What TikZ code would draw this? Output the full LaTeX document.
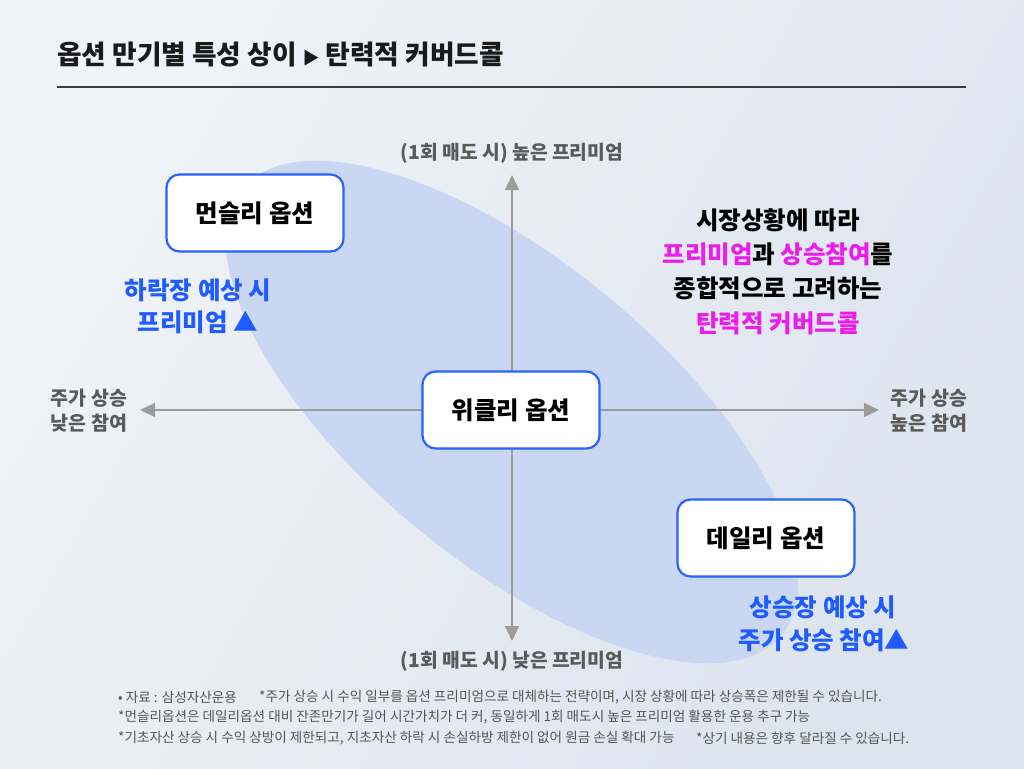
\documentclass[tikz,border=0pt]{standalone}
\usepackage{fontspec}
\setmainfont{Noto Sans CJK KR}
\usetikzlibrary{arrows.meta}
\definecolor{bgA}{HTML}{F0F3F7}
\definecolor{bgB}{HTML}{DCE4EE}
\definecolor{ellfill}{HTML}{C9D7F2}
\definecolor{boxblue}{HTML}{2962FF}
\definecolor{txtblue}{HTML}{1F5BFF}
\definecolor{mag}{HTML}{EC1CEC}
\definecolor{axisgray}{HTML}{9C9C9C}
\definecolor{labgray}{HTML}{5A5A5A}
\definecolor{notegray}{HTML}{555555}
\definecolor{titlecol}{HTML}{1A1A1A}
\tikzset{
  optbox/.style={draw=boxblue, line width=2.2pt, fill=white, rounded corners=13pt,
    minimum width=177pt, minimum height=77pt, inner sep=0pt, font=\bfseries\fontsize{24.5}{28}\selectfont, text=black},
  axisline/.style={draw=axisgray, line width=1.4pt, -{Triangle[length=15pt,width=14pt]}},
  axislab/.style={font=\bfseries\fontsize{19.3}{22}\selectfont, text=labgray, inner sep=0pt},
  sidelab/.style={font=\bfseries\fontsize{19.5}{25}\selectfont, text=labgray, inner sep=0pt, align=center},
  bluelab/.style={font=\bfseries\fontsize{24.5}{28}\selectfont, text=txtblue, inner sep=0pt},
  blacklab/.style={font=\bfseries\fontsize{24.5}{28}\selectfont, text=black, inner sep=0pt},
  note/.style={font=\fontsize{13.6}{16}\selectfont, text=notegray, inner sep=0pt, anchor=west}
}
\begin{document}
\begin{tikzpicture}[x=1pt,y=-1pt]
\useasboundingbox (0,0) rectangle (1024,768);
\shade[left color=bgA, right color=bgB, shading angle=60] (0,0) rectangle (1024,768);

% title
\node[font=\bfseries\fontsize{26.7}{30}\selectfont, text=titlecol, anchor=west, inner sep=0pt] (title) at (57,55) {옵션 만기별 특성 상이 {\fontsize{17}{20}\selectfont ▶} 탄력적 커버드콜};
\coordinate (tl) at (57,87);
\coordinate (tr) at (966,87);
\draw[draw=titlecol!85, line width=1.5pt] (tl) -- (tr);

% ellipse
\fill[ellfill, rotate around={-39.6:(512,412)}] (512,412) ellipse [x radius=350, y radius=150];

% axes
\coordinate (c) at (512,410);
\coordinate (axL) at (140,410);
\coordinate (axR) at (879,410);
\coordinate (axT) at (512,175);
\coordinate (axB) at (512,641);
\draw[axisline] (c) -- (axL);
\draw[axisline] (c) -- (axR);
\draw[axisline] (c) -- (axT);
\draw[axisline] (c) -- (axB);

% axis labels
\node[axislab] (labT) at (512,153) {(1회 매도 시) 높은 프리미엄};
\node[axislab] (labB) at (512,661) {(1회 매도 시) 낮은 프리미엄};
\node[sidelab] (labL) at (89,411) {주가 상승\\낮은 참여};
\node[sidelab] (labR) at (929,411) {주가 상승\\높은 참여};

% boxes
\node[optbox] (monthly) at (255,213) {먼슬리 옵션};
\node[optbox] (weekly) at (511,410) {위클리 옵션};
\node[optbox] (daily) at (766,538) {데일리 옵션};

% blue labels
\node[bluelab] (bl1) at (198,290) {하락장 예상 시};
\node[bluelab] (bl2) at (198,322) {프리미엄 ▲};
\node[bluelab] (br1) at (823,607) {상승장 예상 시};
\node[bluelab] (br2) at (824,640) {주가 상승 참여▲};

% right text
\node[blacklab] (r1) at (778,220) {시장상황에 따라};
\node[blacklab] (r2) at (778,254) {\textcolor{mag}{프리미엄}과 \textcolor{mag}{상승참여}를};
\node[blacklab] (r3) at (778,288) {종합적으로 고려하는};
\node[blacklab, text=mag] (r4) at (778,323) {탄력적 커버드콜};

% notes
\node[note] (n1a) at (118,697) {• 자료 : 삼성자산운용};
\node[note] (n1b) at (259,697) {*주가 상승 시 수익 일부를 옵션 프리미엄으로 대체하는 전략이며, 시장 상황에 따라 상승폭은 제한될 수 있습니다.};
\node[note] (n2) at (118,717) {*먼슬리옵션은 데일리옵션 대비 잔존만기가 길어 시간가치가 더 커, 동일하게 1회 매도시 높은 프리미엄 활용한 운용 추구 가능};
\node[note] (n3a) at (118,738) {*기초자산 상승 시 수익 상방이 제한되고, 지초자산 하락 시 손실하방 제한이 없어 원금 손실 확대 가능};
\node[note] (n3b) at (696,738) {*상기 내용은 향후 달라질 수 있습니다.};
\end{tikzpicture}
\end{document}
